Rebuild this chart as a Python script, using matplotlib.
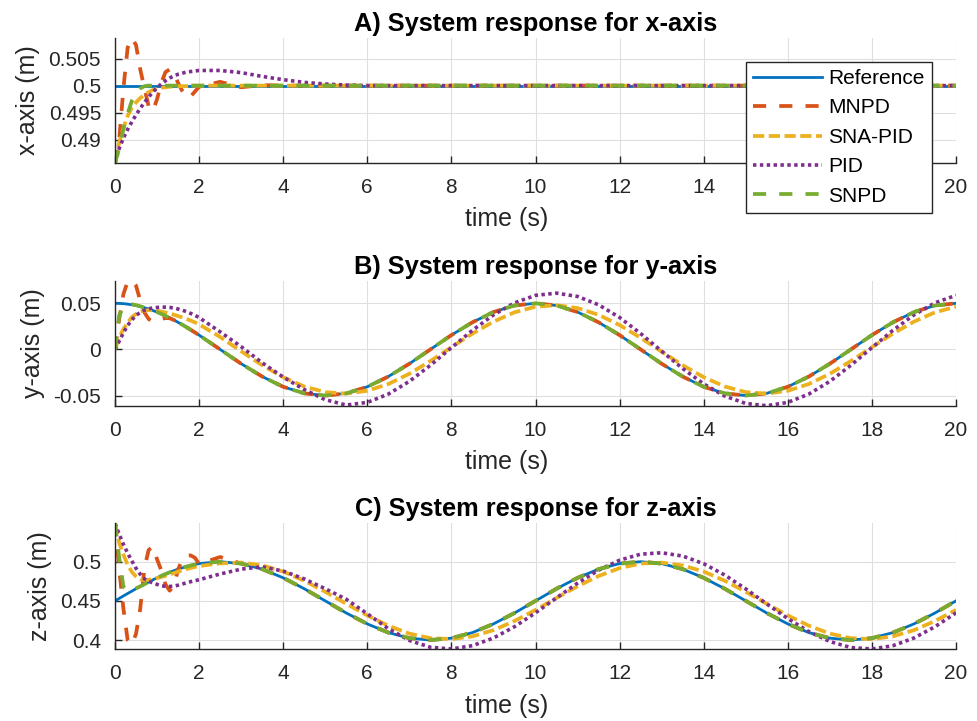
import matplotlib
matplotlib.use("Agg")
import matplotlib.pyplot as plt
from matplotlib.ticker import FormatStrFormatter

plt.rcParams['font.family'] = ['Liberation Sans', 'DejaVu Sans']
plt.rcParams['axes.unicode_minus'] = False

# time samples (s)
t = [0.0, 0.1, 0.2, 0.3, 0.4, 0.5, 0.6, 0.7, 0.8, 0.9,
     1.0, 1.1, 1.2, 1.3, 1.4, 1.5, 1.6, 1.7, 1.8, 1.9,
     2.0, 2.5, 3.0, 3.5, 4.0, 4.5, 5.0, 5.5, 6.0, 6.5,
     7.0, 7.5, 8.0, 8.5, 9.0, 9.5, 10.0, 10.5, 11.0, 11.5,
     12.0, 12.5, 13.0, 13.5, 14.0, 14.5, 15.0, 15.5, 16.0, 16.5,
     17.0, 17.5, 18.0, 18.5, 19.0, 19.5, 20.0]

# x-axis responses (m)
ref_x = [0.5, 0.5, 0.5, 0.5, 0.5, 0.5, 0.5, 0.5, 0.5, 0.5,
         0.5, 0.5, 0.5, 0.5, 0.5, 0.5, 0.5, 0.5, 0.5, 0.5,
         0.5, 0.5, 0.5, 0.5, 0.5, 0.5, 0.5, 0.5, 0.5, 0.5,
         0.5, 0.5, 0.5, 0.5, 0.5, 0.5, 0.5, 0.5, 0.5, 0.5,
         0.5, 0.5, 0.5, 0.5, 0.5, 0.5, 0.5, 0.5, 0.5, 0.5,
         0.5, 0.5, 0.5, 0.5, 0.5, 0.5, 0.5]
mnpd_x = [0.4857, 0.4900, 0.4995, 0.5070, 0.5088, 0.5075, 0.5030, 0.4995, 0.4962, 0.4953,
          0.4975, 0.5005, 0.5025, 0.5030, 0.5022, 0.5005, 0.4990, 0.4978, 0.4980, 0.4989,
          0.4998, 0.5007, 0.4997, 0.5001, 0.5, 0.5, 0.5, 0.5, 0.5, 0.5,
          0.5, 0.5, 0.5, 0.5, 0.5, 0.5, 0.5, 0.5, 0.5, 0.5,
          0.5, 0.5, 0.5, 0.5, 0.5, 0.5, 0.5, 0.5, 0.5, 0.5,
          0.5, 0.5, 0.5, 0.5, 0.5, 0.5, 0.5]
snapid_x = [0.4857, 0.4895, 0.4922, 0.4944, 0.4959, 0.4969, 0.4977, 0.4983, 0.4988, 0.4992,
            0.4994, 0.4996, 0.4997, 0.4998, 0.4998, 0.4999, 0.4999, 0.4999, 0.5, 0.5,
            0.5, 0.5, 0.5, 0.5, 0.5, 0.5, 0.5, 0.5, 0.5, 0.5,
            0.5, 0.5, 0.5, 0.5, 0.5, 0.5, 0.5, 0.5, 0.5, 0.5,
            0.5, 0.5, 0.5, 0.5, 0.5, 0.5, 0.5, 0.5, 0.5, 0.5,
            0.5, 0.5, 0.5, 0.5, 0.5, 0.5, 0.5]
pid_x = [0.4857, 0.4884, 0.4903, 0.4919, 0.4933, 0.4946, 0.4958, 0.4969, 0.4979, 0.4988,
         0.4996, 0.5003, 0.5009, 0.5014, 0.5018, 0.5021, 0.5023, 0.5025, 0.5026, 0.5027,
         0.5028, 0.5028, 0.5024, 0.5017, 0.5011, 0.5006, 0.5003, 0.5001, 0.5, 0.5,
         0.5, 0.5, 0.5, 0.5, 0.5, 0.5, 0.5, 0.5, 0.5, 0.5,
         0.5, 0.5, 0.5, 0.5, 0.5, 0.5, 0.5, 0.5, 0.5, 0.5,
         0.5, 0.5, 0.5, 0.5, 0.5, 0.5, 0.5]
snpd_x = [0.4857, 0.4885, 0.4920, 0.4948, 0.4972, 0.4987, 0.4995, 0.4999, 0.5, 0.5,
          0.5, 0.5, 0.5, 0.5, 0.5, 0.5, 0.5, 0.5, 0.5, 0.5,
          0.5, 0.5, 0.5, 0.5, 0.5, 0.5, 0.5, 0.5, 0.5, 0.5,
          0.5, 0.5, 0.5, 0.5, 0.5, 0.5, 0.5, 0.5, 0.5, 0.5,
          0.5, 0.5, 0.5, 0.5, 0.5, 0.5, 0.5, 0.5, 0.5, 0.5,
          0.5, 0.5, 0.5, 0.5, 0.5, 0.5, 0.5]

# y-axis responses (m)
ref_y = [0.05, 0.0499, 0.0496, 0.0491, 0.0484, 0.0476, 0.0465, 0.0452, 0.0438, 0.0422,
         0.0405, 0.0385, 0.0364, 0.0342, 0.0319, 0.0294, 0.0268, 0.0241, 0.0213, 0.0184,
         0.0155, 0.0, -0.0155, -0.0294, -0.0405, -0.0476, -0.05, -0.0476, -0.0405, -0.0294,
         -0.0155, 0.0, 0.0155, 0.0294, 0.0405, 0.0476, 0.05, 0.0476, 0.0405, 0.0294,
         0.0155, 0.0, -0.0155, -0.0294, -0.0405, -0.0476, -0.05, -0.0476, -0.0405, -0.0294,
         -0.0155, 0.0, 0.0155, 0.0294, 0.0405, 0.0476, 0.05]
mnpd_y = [0.0, 0.033, 0.060, 0.0735, 0.0745, 0.069, 0.053, 0.040, 0.033, 0.030,
          0.031, 0.033, 0.034, 0.0338, 0.0319, 0.0294, 0.0268, 0.0241, 0.0213, 0.0184,
          0.0155, 0.0, -0.0155, -0.0294, -0.0405, -0.0476, -0.05, -0.0476, -0.0405, -0.0294,
          -0.0155, 0.0, 0.0155, 0.0294, 0.0405, 0.0476, 0.05, 0.0476, 0.0405, 0.0294,
          0.0155, 0.0, -0.0155, -0.0294, -0.0405, -0.0476, -0.05, -0.0476, -0.0405, -0.0294,
          -0.0155, 0.0, 0.0155, 0.0294, 0.0405, 0.0476, 0.05]
snapid_y = [0.0, 0.013, 0.022, 0.029, 0.035, 0.0385, 0.041, 0.042, 0.0425, 0.0425,
            0.042, 0.041, 0.040, 0.0388, 0.0376, 0.0362, 0.0347, 0.0331, 0.0313, 0.0293,
            0.0272, 0.0135, -0.002, -0.0171, -0.0301, -0.0402, -0.0463, -0.0479, -0.0448, -0.0375,
            -0.0264, -0.0126, 0.0024, 0.0171, 0.0301, 0.0402, 0.0463, 0.0479, 0.0448, 0.0375,
            0.0264, 0.0126, -0.0024, -0.0171, -0.0301, -0.0402, -0.0463, -0.0479, -0.0448, -0.0375,
            -0.0264, -0.0126, 0.0024, 0.0171, 0.0301, 0.0402, 0.0463]
pid_y = [0.0, 0.009, 0.018, 0.026, 0.032, 0.037, 0.040, 0.0425, 0.044, 0.045,
         0.0455, 0.0458, 0.0458, 0.0455, 0.0448, 0.0438, 0.0425, 0.041, 0.039, 0.037,
         0.0345, 0.019, 0.003, -0.0145, -0.030, -0.0435, -0.0545, -0.0603, -0.0574, -0.0484,
         -0.0346, -0.0172, 0.0019, 0.0207, 0.0374, 0.0505, 0.0586, 0.0610, 0.0574, 0.0484,
         0.0346, 0.0172, -0.0019, -0.0207, -0.0374, -0.0505, -0.0586, -0.0610, -0.0574, -0.0484,
         -0.0346, -0.0172, 0.0019, 0.0207, 0.0374, 0.0505, 0.0586]
snpd_y = [0.0, 0.037, 0.046, 0.049, 0.049, 0.048, 0.0468, 0.0453, 0.0438, 0.0422,
          0.0405, 0.0385, 0.0364, 0.0342, 0.0319, 0.0294, 0.0268, 0.0241, 0.0213, 0.0184,
          0.0155, 0.0, -0.0155, -0.0294, -0.0405, -0.0476, -0.05, -0.0476, -0.0405, -0.0294,
          -0.0155, 0.0, 0.0155, 0.0294, 0.0405, 0.0476, 0.05, 0.0476, 0.0405, 0.0294,
          0.0155, 0.0, -0.0155, -0.0294, -0.0405, -0.0476, -0.05, -0.0476, -0.0405, -0.0294,
          -0.0155, 0.0, 0.0155, 0.0294, 0.0405, 0.0476, 0.05]

# z-axis responses (m)
ref_z = [0.45, 0.4531, 0.4563, 0.4594, 0.4624, 0.4655, 0.4684, 0.4713, 0.4741, 0.4768,
         0.4794, 0.4819, 0.4842, 0.4865, 0.4885, 0.4905, 0.4922, 0.4938, 0.4952, 0.4965,
         0.4976, 0.5, 0.4976, 0.4905, 0.4794, 0.4655, 0.45, 0.4345, 0.4206, 0.4095,
         0.4024, 0.4, 0.4024, 0.4095, 0.4206, 0.4345, 0.45, 0.4655, 0.4794, 0.4905,
         0.4976, 0.5, 0.4976, 0.4905, 0.4794, 0.4655, 0.45, 0.4345, 0.4206, 0.4095,
         0.4024, 0.4, 0.4024, 0.4095, 0.4206, 0.4345, 0.45]
mnpd_z = [0.549, 0.490, 0.440, 0.400, 0.394, 0.408, 0.440, 0.492, 0.515, 0.519,
          0.503, 0.489, 0.471, 0.463, 0.470, 0.490, 0.503, 0.508, 0.508, 0.505,
          0.497, 0.506, 0.4976, 0.4905, 0.4794, 0.4655, 0.45, 0.4345, 0.4206, 0.4095,
          0.4024, 0.4, 0.4024, 0.4095, 0.4206, 0.4345, 0.45, 0.4655, 0.4794, 0.4905,
          0.4976, 0.5, 0.4976, 0.4905, 0.4794, 0.4655, 0.45, 0.4345, 0.4206, 0.4095,
          0.4024, 0.4, 0.4024, 0.4095, 0.4206, 0.4345, 0.45]
snapid_z = [0.549, 0.524, 0.509, 0.496, 0.487, 0.481, 0.4775, 0.4765, 0.4768, 0.4778,
            0.479, 0.4805, 0.482, 0.4837, 0.4855, 0.4873, 0.489, 0.4906, 0.492, 0.4933,
            0.4945, 0.4978, 0.4989, 0.4953, 0.4874, 0.4757, 0.4616, 0.4463, 0.4314, 0.4183,
            0.4082, 0.4024, 0.4012, 0.4047, 0.4126, 0.4243, 0.4384, 0.4537, 0.4686, 0.4817,
            0.4918, 0.4976, 0.4988, 0.4953, 0.4874, 0.4757, 0.4616, 0.4463, 0.4314, 0.4183,
            0.4082, 0.4024, 0.4012, 0.4047, 0.4126, 0.4243, 0.4384]
pid_z = [0.549, 0.535, 0.522, 0.511, 0.501, 0.4915, 0.484, 0.478, 0.475, 0.473,
         0.471, 0.4693, 0.4686, 0.4684, 0.4688, 0.470, 0.4715, 0.473, 0.4745, 0.4758,
         0.477, 0.4843, 0.4905, 0.4935, 0.488, 0.478, 0.4655, 0.452, 0.4335, 0.4145,
         0.3995, 0.3908, 0.3886, 0.3928, 0.4026, 0.4170, 0.4347, 0.4539, 0.4726, 0.4892,
         0.5019, 0.5096, 0.5114, 0.5072, 0.4974, 0.4830, 0.4653, 0.4461, 0.4274, 0.4108,
         0.3981, 0.3904, 0.3886, 0.3928, 0.4026, 0.4170, 0.4347]
snpd_z = [0.549, 0.505, 0.468, 0.462, 0.4635, 0.466, 0.4685, 0.4713, 0.4741, 0.4768,
          0.4794, 0.4819, 0.4842, 0.4865, 0.4885, 0.4905, 0.4922, 0.4938, 0.4952, 0.4965,
          0.4976, 0.5, 0.4976, 0.4905, 0.4794, 0.4655, 0.45, 0.4345, 0.4206, 0.4095,
          0.4024, 0.4, 0.4024, 0.4095, 0.4206, 0.4345, 0.45, 0.4655, 0.4794, 0.4905,
          0.4976, 0.5, 0.4976, 0.4905, 0.4794, 0.4655, 0.45, 0.4345, 0.4206, 0.4095,
          0.4024, 0.4, 0.4024, 0.4095, 0.4206, 0.4345, 0.45]

names = ['Reference', 'MNPD', 'SNA-PID', 'PID', 'SNPD']
titles = ['A) System response for x-axis', 'B) System response for y-axis',
          'C) System response for z-axis']
ylabels = ['x-axis (m)', 'y-axis (m)', 'z-axis (m)']
yticks = [[0.49, 0.495, 0.5, 0.505], [-0.05, 0, 0.05], [0.4, 0.45, 0.5]]
panels = [[ref_x, mnpd_x, snapid_x, pid_x, snpd_x],
          [ref_y, mnpd_y, snapid_y, pid_y, snpd_y],
          [ref_z, mnpd_z, snapid_z, pid_z, snpd_z]]

# matlab default line colours and styles
colors = ['#0072BD', '#D95319', '#EDB120', '#7E2F8E', '#77AC30']
styles = ['-', (0, (3.5, 3.5)), (0, (3.0, 1.2)), (0, (0.95, 0.95)), (0, (3.5, 3.5))]
widths = [2.0, 2.7, 2.7, 2.6, 2.7]

dark = '#262626'
fig = plt.figure(figsize=(9.78, 7.21), dpi=100)
boxes = [[0.1176, 0.7739, 0.8599, 0.1734],
         [0.1176, 0.4373, 0.8599, 0.1734],
         [0.1176, 0.0999, 0.8599, 0.1743]]

for k in range(3):
    ax = fig.add_axes(boxes[k])
    for i in range(5):
        ax.plot(t, panels[k][i], color=colors[i], linestyle=styles[i],
                linewidth=widths[i], label=names[i], dash_capstyle='butt')
    lo = min(min(s) for s in panels[k])
    hi = max(max(s) for s in panels[k])
    ax.set_xlim(0, 20)
    ax.set_ylim(lo, hi)
    ax.set_xticks(range(0, 21, 2))
    ax.set_yticks(yticks[k])
    ax.yaxis.set_major_formatter(FormatStrFormatter('%g'))
    ax.grid(True, color='#dfdfdf', linewidth=0.8)
    ax.set_axisbelow(True)
    for side in ['top', 'right']:
        ax.spines[side].set_visible(False)
    for side in ['left', 'bottom']:
        ax.spines[side].set_color(dark)
        ax.spines[side].set_linewidth(1.0)
    ax.tick_params(direction='in', length=5, width=1.0, colors=dark, labelsize=15)
    ax.tick_params(axis='x', pad=11)
    ax.tick_params(axis='y', pad=10)
    ax.set_title(titles[k], fontsize=18.3, fontweight='bold', pad=5)
    ax.set_xlabel('time (s)', fontsize=18, color=dark)
    ax.xaxis.set_label_coords(0.466, -0.355)
    ax.set_ylabel(ylabels[k], fontsize=18, color=dark, labelpad=6)
    if k == 0:
        leg = ax.legend(loc='upper left', bbox_to_anchor=(0.7628, 0.9144),
                        bbox_transform=fig.transFigure, fontsize=15, fancybox=False,
                        edgecolor=dark, framealpha=1, handlelength=3.3,
                        handletextpad=0.3, labelspacing=0.5, borderpad=0.35,
                        borderaxespad=0)
        leg.get_frame().set_linewidth(1.0)

fig.savefig('out.png', dpi=100)
